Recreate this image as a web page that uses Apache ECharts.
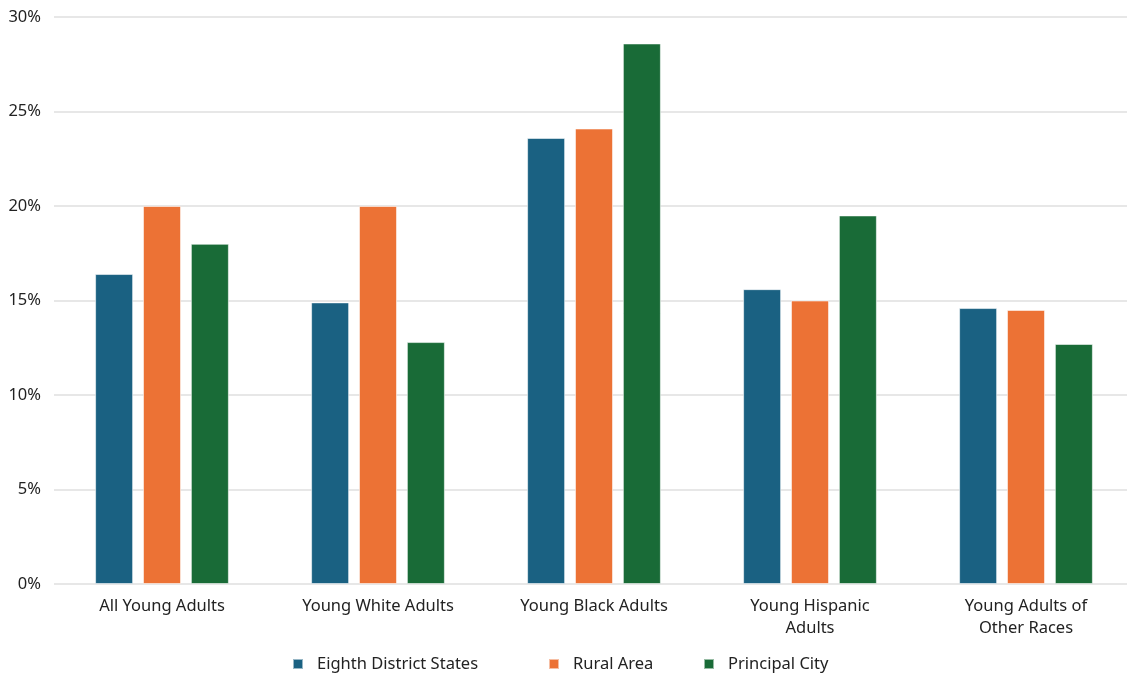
<!DOCTYPE html>
<html>
<head>
<meta charset="utf-8">
<script src="https://cdn.jsdelivr.net/npm/echarts@6/dist/echarts.min.js"></script>
<style>
  html, body { margin: 0; padding: 0; background: #fff; overflow: hidden; }
  /* the plot runs slightly past the right edge of the page */
  #chart { width: 1134px; height: 675px; }
</style>
</head>
<body>
<div id="chart"></div>
<script>
// Share of young adults, by group and area (%)
const categories = [
  'All Young Adults',
  'Young White Adults',
  'Young Black Adults',
  'Young Hispanic\nAdults',
  'Young Adults of\nOther Races'
];
const eighthDistrict = [16.4, 14.9, 23.6, 15.6, 14.6];
const ruralArea      = [20.0, 20.0, 24.1, 15.0, 14.5];
const principalCity  = [18.0, 12.8, 28.6, 19.5, 12.7];
const seriesNames = ['Eighth District States', 'Rural Area', 'Principal City'];
const yTicks = [0, 5, 10, 15, 20, 25, 30];

const colors = ['#1a6182', '#ec7235', '#196b37'];
const FONT = 'Noto Sans';
const FONT_SIZE = 16.5;

const chart = echarts.init(document.getElementById('chart'), null, { renderer: 'canvas' });

function barSeries(name, data, color) {
  return {
    name: name,
    type: 'bar',
    data: data,
    barWidth: 38,
    barGap: '26%',
    itemStyle: {
      color: color,
      borderColor: 'rgba(255,255,255,0.55)',
      borderWidth: 1
    },
    emphasis: { disabled: true }
  };
}

function legendAt(name, left) {
  return {
    data: [name],
    left: left,
    top: 654,
    icon: 'rect',
    itemWidth: 10,
    itemHeight: 10,
    selectedMode: false,
    padding: 0,
    textStyle: {
      fontFamily: FONT,
      fontSize: FONT_SIZE,
      color: '#222',
      padding: [0, 0, 0, 9],
      lineHeight: 20
    }
  };
}

chart.setOption({
  animation: false,
  color: colors,
  textStyle: { fontFamily: FONT },
  grid: { left: 54, top: 17, right: 0, height: 567, containLabel: false },
  legend: [
    legendAt(seriesNames[0], 292),
    legendAt(seriesNames[1], 548),
    legendAt(seriesNames[2], 703)
  ],
  xAxis: {
    type: 'category',
    data: categories,
    axisLine: { show: false },
    axisTick: { show: false },
    axisLabel: {
      interval: 0,
      margin: 11,
      fontFamily: FONT,
      fontSize: FONT_SIZE,
      color: '#222',
      lineHeight: 22
    }
  },
  yAxis: {
    type: 'value',
    min: yTicks[0],
    max: yTicks[yTicks.length - 1],
    interval: 5,
    axisLine: { show: false },
    axisTick: { show: false },
    axisLabel: {
      margin: 13,
      fontFamily: FONT,
      fontSize: FONT_SIZE,
      color: '#222',
      formatter: v => v + '%'
    },
    splitLine: { lineStyle: { color: '#dfdfdf', width: 1.5 } }
  },
  series: [
    barSeries(seriesNames[0], eighthDistrict, colors[0]),
    barSeries(seriesNames[1], ruralArea, colors[1]),
    barSeries(seriesNames[2], principalCity, colors[2])
  ]
});
</script>
</body>
</html>
